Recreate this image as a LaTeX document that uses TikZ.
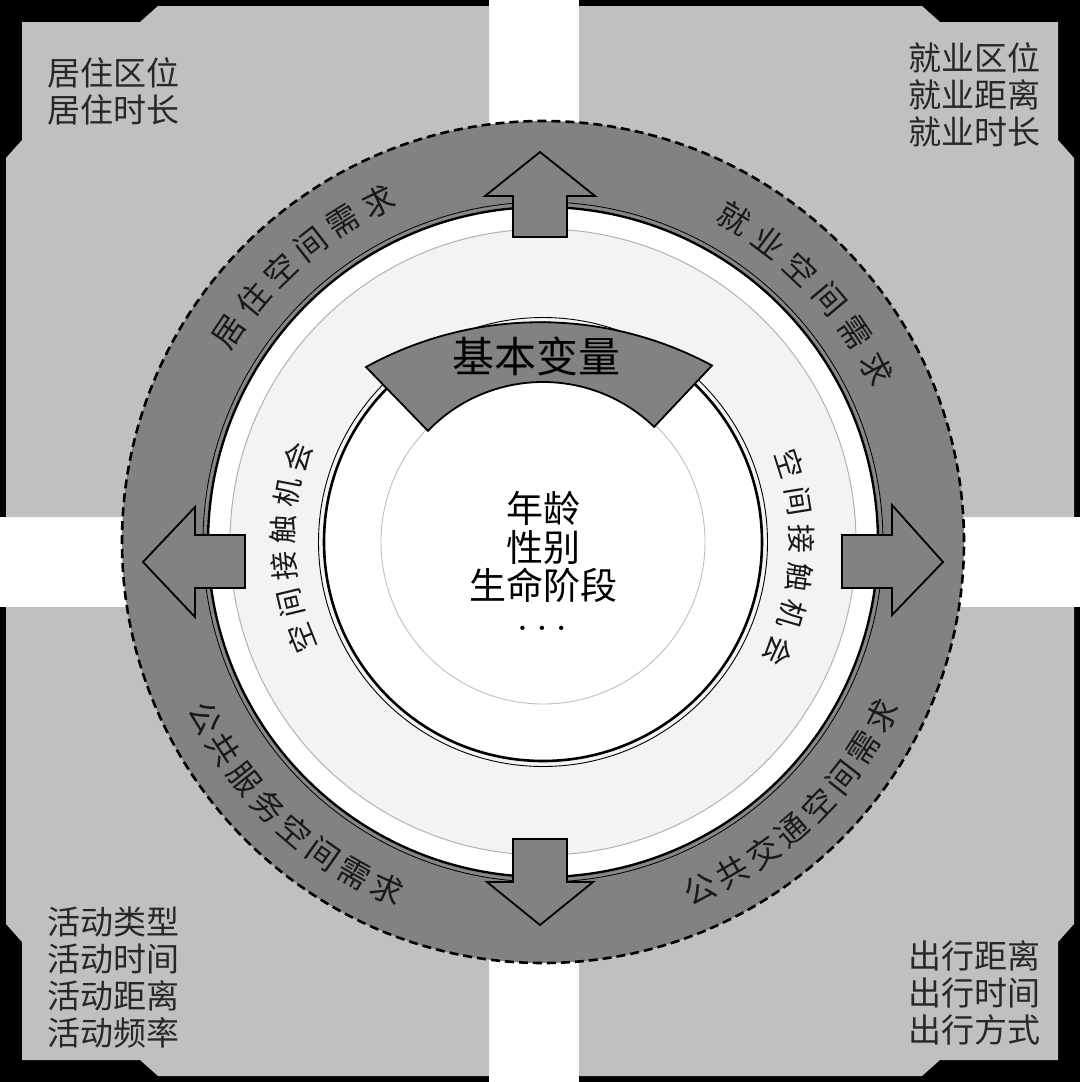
\documentclass[tikz,border=0pt]{standalone}
\usepackage{fontspec}
\newfontfamily\cjk{Noto Sans CJK SC}
\usetikzlibrary{calc}

\definecolor{panelgray}{RGB}{192,192,192}
\definecolor{ringgray}{RGB}{130,130,130}
\definecolor{lightring}{RGB}{243,243,243}
\definecolor{txtgray}{RGB}{40,40,40}

\tikzset{
  cornertext/.style={font=\cjk\fontsize{33}{37}\selectfont, text=txtgray, align=left, inner sep=0pt},
  ringtext/.style={font=\cjk\fontsize{32}{32}\selectfont, text=black!90, inner sep=0pt},
  chancetext/.style={font=\cjk\fontsize{29}{29}\selectfont, text=black!90, inner sep=0pt},
  bigarrow/.style={fill=ringgray, draw=black, line width=1.8pt, line join=miter},
}

\begin{document}
\begin{tikzpicture}[x=1pt,y=1pt]
\useasboundingbox (0,0) rectangle (1080,-1082);
\fill[white] (0,0) rectangle (1080,-1082);
\coordinate (C) at (543,-542);
% four corner panels
\foreach \cx/\cy/\sx/\sy/\w/\h in {0/0/1/-1/489/517, 1080/0/-1/-1/501/517, 0/-1082/1/1/489/475, 1080/-1082/-1/1/501/475} {
  \begin{scope}[shift={(\cx,\cy)}, xscale=\sx, yscale=\sy]
    \fill[black] (0,0) rectangle (\w,\h);
    \fill[panelgray] (158,6) -- (\w,6) -- (\w,\h) -- (6,\h) -- (6,158) -- (22,140) -- (22,22) -- (140,22) -- cycle;
  \end{scope}
}
% outer ring
\fill[ringgray] (C) circle[radius=421];
\fill[white] (C) circle[radius=336];
\draw[black, line width=2.6pt, dash pattern=on 9pt off 5pt] (C) circle[radius=421];
% light ring and core
\fill[lightring] (C) circle[radius=313];
\draw[black!30, line width=1pt] (C) circle[radius=313];
\fill[white] (C) circle[radius=220];
\draw[black, line width=2.6pt] (C) circle[radius=219];
\draw[black, line width=0.9pt] (C) circle[radius=224.5];
\draw[black!25, line width=0.9pt] (C) circle[radius=162];
% inner edge of the outer ring
\draw[black, line width=2.4pt] (C) circle[radius=335];
\draw[black!45, line width=1pt] (C) circle[radius=338];
\draw[black, line width=0.8pt] (C) circle[radius=340];
% arrows
\filldraw[bigarrow] (513,-237) -- (513,-196) -- (485,-196) -- (540,-152) -- (595,-196) -- (567,-196) -- (567,-237) -- cycle;
\filldraw[bigarrow] (513,-839) -- (513,-882) -- (487,-882) -- (540,-925) -- (593,-882) -- (567,-882) -- (567,-839) -- cycle;
\filldraw[bigarrow] (245,-535) -- (195,-535) -- (195,-507) -- (143,-562) -- (195,-617) -- (195,-588) -- (245,-588) -- cycle;
\filldraw[bigarrow] (842,-535) -- (892,-535) -- (892,-505) -- (943,-562) -- (892,-615) -- (892,-588) -- (842,-588) -- cycle;
% sector
\filldraw[fill=ringgray, draw=black, line width=1.8pt] ($(C)+(136:160)$) -- (366,-367)
  arc[start angle=118.8, end angle=61.7, radius=362] -- ($(C)+(46:160)$)
  arc[start angle=46, end angle=136, radius=160] -- cycle;
\node[font=\cjk\fontsize{42}{42}\selectfont] (basic) at (536,-356) {基本变量};

% texts on the outer ring
\foreach \ch [count=\i from 0] in {居,住,空,间,需,求} {
  \pgfmathsetmacro\a{146.2-6.08*\i}
  \node[ringtext, rotate=\a-90] (live\i) at ($(C)+(\a:378)$) {\ch};
}
\foreach \ch [count=\i from 0] in {就,业,空,间,需,求} {
  \pgfmathsetmacro\a{59.4-6.4*\i}
  \node[ringtext, rotate=\a-90] (work\i) at ($(C)+(\a:376)$) {\ch};
}
\foreach \ch [count=\i from 0] in {公,共,服,务,空,间,需,求} {
  \pgfmathsetmacro\a{207.5+5.47*\i}
  \node[ringtext, rotate=\a+90] (serv\i) at ($(C)+(\a:381)$) {\ch};
}
\foreach \ch [count=\i from 0] in {公,共,交,通,空,间,需,求} {
  \pgfmathsetmacro\a{-65.6+5.49*\i}
  \node[ringtext, rotate=\a+90] (tran\i) at ($(C)+(\a:381)$) {\ch};
}
% texts on the light ring
\foreach \ch [count=\i from 0] in {空,间,接,触,机,会} {
  \pgfmathsetmacro\a{201.7-8.16*\i}
  \node[chancetext, rotate=\a-90] (oppl\i) at ($(C)+(\a:260)$) {\ch};
  \pgfmathsetmacro\b{17.65-8.5*\i}
  \node[chancetext, rotate=\b-90] (oppr\i) at ($(C)+(\b:259)$) {\ch};
}

% core
\node[font=\cjk\fontsize{37}{38.5}\selectfont, align=center] (core) at (543,-547) {年龄\\性别\\生命阶段};
\node[font=\bfseries\fontsize{30}{30}\selectfont, inner sep=0pt] (dots) at (542,-628) {.\hspace{10pt}.\hspace{10pt}.};

% corner texts
\node[cornertext, anchor=west] (livetxt) at (47,-91) {居住区位\\居住时长};
\node[cornertext, anchor=east] (worktxt) at (1041,-95) {就业区位\\就业距离\\就业时长};
\node[cornertext, anchor=west] (acttxt) at (47,-978) {活动类型\\活动时间\\活动距离\\活动频率};
\node[cornertext, anchor=east] (triptxt) at (1041,-993) {出行距离\\出行时间\\出行方式};
\end{tikzpicture}
\end{document}
